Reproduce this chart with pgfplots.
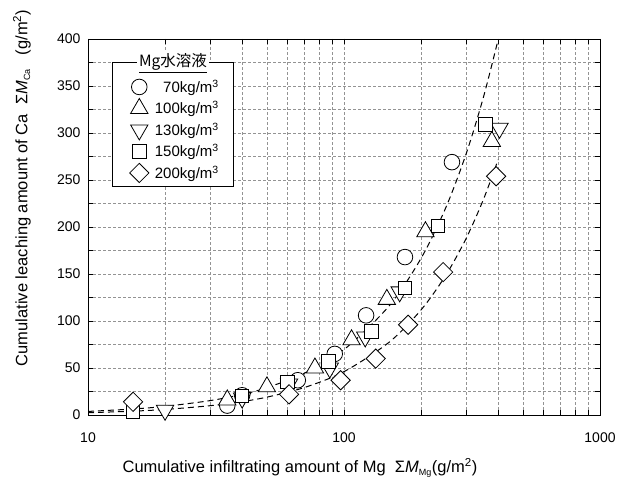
\documentclass[border=0pt]{standalone}
\usepackage{pgfplots}
\pgfplotsset{compat=1.18}
\usepackage{fontspec}
\setmainfont{Liberation Sans}
\newfontfamily\cjk{Noto Sans CJK JP}
\begin{document}
\begin{tikzpicture}
\useasboundingbox (-88pt,-66pt) rectangle (532pt,415pt);
\begin{axis}[
  scale only axis, width=512pt, height=376pt,
  xmode=log, xmin=10, xmax=1000, ymin=0, ymax=400,
  log ticks with fixed point,
  /pgf/number format/1000 sep={},
  ytick={0,50,...,400}, minor ytick={25,75,...,375},
  grid=both,
  grid style={dash pattern=on 3pt off 2pt, gray!85, line width=0.5pt},
  major grid style={dash pattern=on 3pt off 2pt, gray!85, line width=0.5pt},
  minor grid style={dash pattern=on 3pt off 2pt, gray!85, line width=0.5pt},
  tick align=inside,
  major tick length=5pt, minor tick length=5pt,
  every tick/.style={black, line width=0.7pt},
  axis line style={line width=0.9pt},
  tick label style={font=\fontsize{14}{16}\selectfont},
  xticklabel style={yshift=-14pt},
  yticklabel style={xshift=-4pt},
  /pgf/number format/assume math mode=true,
  label style={font=\fontsize{16.5}{19}\selectfont},
  xlabel={Cumulative infiltrating amount of Mg\ \ Σ\textit{M}\textsubscript{\fontsize{9}{10}\selectfont Mg}(g/m\textsuperscript{2})},
  ylabel={Cumulative leaching amount of Ca\ \ Σ\textit{M}\textsubscript{\fontsize{9}{10}\selectfont Ca}\ \ \ (g/m\textsuperscript{2})},
  xlabel style={at={(axis description cs:0.414,-0.141)}, anchor=center},
  ylabel style={at={(axis description cs:-0.129,0.604)}, anchor=center},
  legend style={at={(axis description cs:0.081,0.9016)}, anchor=north west,
    draw=none, fill=none, inner sep=0pt, row sep=0pt, column sep=4pt,
    font=\fontsize{15}{17}\selectfont,
    nodes={minimum height=21.5pt, inner sep=2pt}},
  legend cell align=right,
  every axis plot/.append style={line width=0.8pt},
]
% legend frame and title
\draw[line width=0.7pt, fill=white] (rel axis cs:0.0469,0.9388) rectangle (rel axis cs:0.2832,0.609);
\node[fill=white, inner sep=2pt, font=\cjk\fontsize{15.5}{17}\selectfont] at (rel axis cs:0.166,0.936) {\underline{Mg水溶液}};

% fitted curves
\addplot[forget plot, smooth, black, line width=1pt, dash pattern=on 6pt off 4pt] coordinates {
(10,3.8)(15,6.4)(20,9.2)(30,15.3)(40,21.9)(50,29.1)(70,44.4)(100,69.6)(150,116)(200,166.7)(250,220.8)(300,277.9)(350,337.5)(400,399.3)};
\addplot[forget plot, smooth, black, line width=1pt, dash pattern=on 6pt off 4pt] coordinates {
(10,2.4)(15,4.1)(20,5.9)(30,9.9)(40,14.3)(50,19.0)(70,29.2)(100,46.1)(150,77.4)(200,111.8)(250,148.8)(300,187.9)(350,228.9)(400,271.6)};

% 70 kg/m3
\addplot[only marks, mark=*, mark size=7.8pt, mark options={fill=white, draw=black, line width=0.8pt}] coordinates {
(35,10)(40,21)(66,37)(92,65)(122,106)(173,168)(264,269)};
\addlegendentry{70kg/m\textsuperscript{3}}
% 100 kg/m3
\addplot[only marks, mark=triangle*, mark size=10pt, mark options={fill=white, draw=black, line width=0.8pt}] coordinates {
(35,16)(50,30)(77,50)(107,80)(147,123)(208,195)(378,291)};
\addlegendentry{100kg/m\textsuperscript{3}}
% 130 kg/m3
\addplot[only marks, mark=triangle*, mark size=10pt, mark options={fill=white, draw=black, line width=0.8pt, rotate=180}] coordinates {
(20,5)(40,18)(61,33)(88,50)(121,83)(165,131)(405,305)};
\addlegendentry{130kg/m\textsuperscript{3}}
% 150 kg/m3
\addplot[only marks, mark=square*, mark size=6.7pt, mark options={fill=white, draw=black, line width=0.8pt}] coordinates {
(15,3)(40,20)(60,35)(87,57)(128,89)(173,135)(233,201)(357,309)};
\addlegendentry{150kg/m\textsuperscript{3}}
% 200 kg/m3
\addplot[only marks, mark=square*, mark size=6.8pt, mark options={fill=white, draw=black, line width=0.8pt, rotate=45}] coordinates {
(15,14)(61,22)(97,37)(133,60)(178,96)(244,152)(393,254)};
\addlegendentry{200kg/m\textsuperscript{3}}
\end{axis}
\end{tikzpicture}
\end{document}
